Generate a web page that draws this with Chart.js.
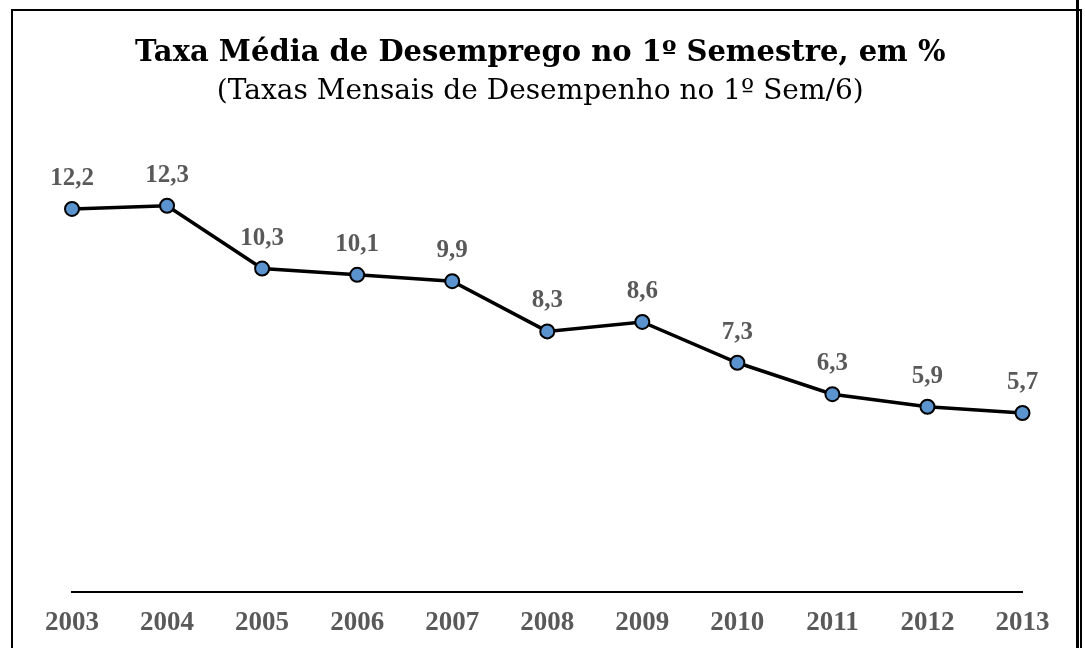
<!DOCTYPE html>
<html>
<head>
<meta charset="utf-8">
<script src="https://cdn.jsdelivr.net/npm/chart.js@4/dist/chart.umd.min.js"></script>
<style>
  html, body { margin: 0; padding: 0; background: #fff; overflow: hidden; }
  #wrap { position: absolute; left: 0; top: 0; width: 1085px; height: 648px; }
  #frame { position: absolute; left: 11px; top: 9px; width: 1067px; height: 700px; border: 2.5px solid #000; }
  #vline { position: absolute; left: 1076px; top: 0; width: 2.5px; height: 648px; background: #000; }
</style>
</head>
<body>
<div id="frame"></div>
<div id="vline"></div>
<div id="wrap"><canvas id="unempChart" width="1085" height="648"></canvas></div>
<script>
const years = ['2003', '2004', '2005', '2006', '2007', '2008', '2009', '2010', '2011', '2012', '2013'];
const rates = [12.2, 12.3, 10.3, 10.1, 9.9, 8.3, 8.6, 7.3, 6.3, 5.9, 5.7];
const titleText = 'Taxa Média de Desemprego no 1º Semestre, em %';
const subtitleText = '(Taxas Mensais de Desempenho no 1º Sem/6)';

const labelColor = '#595959';
const numFont = 'bold 25px "Liberation Serif", serif';

const valueLabels = {
  id: 'valueLabels',
  afterDatasetsDraw(chart) {
    const ctx = chart.ctx;
    const meta = chart.getDatasetMeta(0);
    ctx.save();
    ctx.font = numFont;
    ctx.fillStyle = labelColor;
    ctx.textAlign = 'center';
    ctx.textBaseline = 'alphabetic';
    meta.data.forEach((pt, i) => {
      const txt = rates[i].toFixed(1).replace('.', ',');
      ctx.fillText(txt, pt.x, pt.y - 24);
    });
    ctx.restore();
  }
};

const ctx = document.getElementById('unempChart');
new Chart(ctx, {
  type: 'line',
  data: {
    labels: years,
    datasets: [{
      data: rates,
      borderColor: '#000',
      borderWidth: 3.5,
      pointBackgroundColor: '#5b93cf',
      pointBorderColor: '#000',
      pointBorderWidth: 2,
      pointRadius: 7,
      tension: 0,
      fill: false
    }]
  },
  options: {
    responsive: false,
    animation: false,
    layout: { padding: { left: 58, right: 62.5, top: 0, bottom: 10 } },
    plugins: {
      legend: { display: false },
      tooltip: { enabled: false },
      title: {
        display: true,
        text: titleText,
        color: '#000',
        font: { family: '"DejaVu Serif", serif', size: 29, weight: 'bold', lineHeight: 1.2 },
        padding: { top: 36, bottom: 0 }
      },
      subtitle: {
        display: true,
        text: subtitleText,
        color: '#000',
        font: { family: '"DejaVu Serif", serif', size: 28, weight: 'normal', lineHeight: 1.2 },
        padding: { top: 4, bottom: 44 }
      }
    },
    scales: {
      x: {
        offset: false,
        grid: { display: false, drawTicks: false },
        border: { display: true, color: '#000', width: 2 },
        ticks: {
          color: labelColor,
          padding: 15,
          font: { family: '"Liberation Serif", serif', size: 27, weight: 'bold', lineHeight: 1.2 }
        },
        afterFit(scale) { scale.height = 46; }
      },
      y: {
        min: 0,
        max: 14,
        grid: { display: false, drawTicks: false },
        border: { display: false },
        ticks: { display: false },
        afterFit(scale) { scale.width = 14; }
      }
    }
  },
  plugins: [valueLabels]
});
</script>
</body>
</html>
